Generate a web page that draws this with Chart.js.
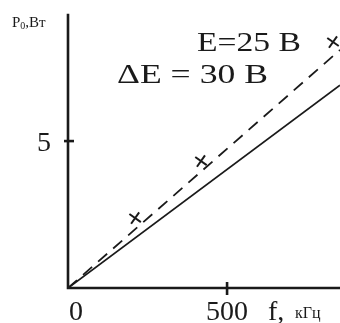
<!DOCTYPE html>
<html>
<head>
<meta charset="utf-8">
<script src="https://cdn.jsdelivr.net/npm/chart.js@4.4.1/dist/chart.umd.min.js"></script>
<style>
  html, body { margin: 0; padding: 0; background: #fff; }
  #wrap { width: 340px; height: 323px; }
</style>
</head>
<body>
<div id="wrap"><canvas id="c" width="340" height="323"></canvas></div>
<script>
// frequency, kHz / power, W
const freq = [0, 855];
const powerSolid = [0, 6.9];
const powerDashed = [0, 8.1];
const measFreq = [211, 418, 833];
const measPower = [2.38, 4.32, 8.37];
const xTicks = [0, 500];
const yTicks = [5];
const xMax = 855;
const yMax = 9.29;

const serif = '"Liberation Serif", "DejaVu Serif", serif';

function pts(xs, ys) {
  return xs.map((x, i) => ({ x: x, y: ys[i] }));
}

// the original is set in a wide TeX font: stretch the text to its width
function wideText(ctx, text, x, y, width) {
  const w = ctx.measureText(text).width;
  ctx.save();
  ctx.translate(x, y);
  ctx.scale(width / w, 1);
  ctx.fillText(text, 0, 0);
  ctx.restore();
}

const axesPlugin = {
  id: 'axes',
  afterDraw(chart) {
    const ctx = chart.ctx;
    const xs = chart.scales.x, ys = chart.scales.y;
    const left = xs.getPixelForValue(0);
    const bottom = ys.getPixelForValue(0);
    const right = chart.chartArea.right;
    const top = chart.chartArea.top;
    ctx.save();
    ctx.strokeStyle = '#1a1a1a';
    ctx.lineWidth = 2.6;
    ctx.lineCap = 'square';
    ctx.beginPath();
    ctx.moveTo(left, top);
    ctx.lineTo(left, bottom);
    ctx.lineTo(right, bottom);
    ctx.stroke();

    // tick marks crossing the axes
    ctx.lineCap = 'butt';
    xTicks.forEach(v => {
      if (v === 0) return;
      const px = xs.getPixelForValue(v);
      ctx.beginPath();
      ctx.moveTo(px, bottom - 6);
      ctx.lineTo(px, bottom + 7);
      ctx.stroke();
    });
    yTicks.forEach(v => {
      const py = ys.getPixelForValue(v);
      ctx.beginPath();
      ctx.moveTo(left - 4, py);
      ctx.lineTo(left + 6, py);
      ctx.stroke();
    });

    // tick labels
    ctx.fillStyle = '#1a1a1a';
    ctx.font = '28px ' + serif;
    ctx.textBaseline = 'alphabetic';
    xTicks.forEach(v => {
      const px = xs.getPixelForValue(v);
      ctx.textAlign = v === 0 ? 'left' : 'center';
      ctx.fillText(String(v), v === 0 ? px + 1 : px, bottom + 32);
    });
    ctx.textAlign = 'right';
    yTicks.forEach(v => {
      ctx.fillText(String(v), left - 17, ys.getPixelForValue(v) + 10);
    });

    // axis titles
    ctx.textAlign = 'left';
    ctx.fillText('f,', 268, bottom + 32);
    ctx.font = '16px ' + serif;
    ctx.fillText('кГц', 295, bottom + 30);

    ctx.font = '15px ' + serif;
    let x = 12;
    ctx.fillText('P', x, 27);
    x += ctx.measureText('P').width;
    ctx.font = '10px ' + serif;
    ctx.fillText('0', x, 29);
    x += ctx.measureText('0').width;
    ctx.font = '15px ' + serif;
    ctx.fillText(',Bт', x, 27);

    // annotations
    ctx.font = '27px ' + serif;
    wideText(ctx, 'E=25 B', 197, 51, 104);
    wideText(ctx, 'ΔE = 30 B', 117, 83, 151);
    ctx.restore();
  }
};

new Chart(document.getElementById('c'), {
  type: 'scatter',
  data: {
    datasets: [
      {
        data: pts(freq, powerSolid),
        showLine: true,
        borderColor: '#1a1a1a',
        borderWidth: 1.8,
        pointRadius: 0
      },
      {
        data: pts(freq, powerDashed),
        showLine: true,
        borderColor: '#1a1a1a',
        borderWidth: 1.8,
        borderDash: [12, 8],
        pointRadius: 0
      },
      {
        data: pts(measFreq, measPower),
        showLine: false,
        pointStyle: 'cross',
        pointRotation: 35,
        pointRadius: 7,
        borderColor: '#1a1a1a',
        borderWidth: 2,
        clip: false
      }
    ]
  },
  options: {
    responsive: false,
    animation: false,
    events: [],
    layout: { autoPadding: false, padding: { left: 68, top: 15, right: 0, bottom: 35 } },
    plugins: { legend: { display: false }, tooltip: { enabled: false } },
    scales: {
      x: { type: 'linear', min: 0, max: xMax, display: false },
      y: { type: 'linear', min: 0, max: yMax, display: false }
    }
  },
  plugins: [axesPlugin]
});
</script>
</body>
</html>
